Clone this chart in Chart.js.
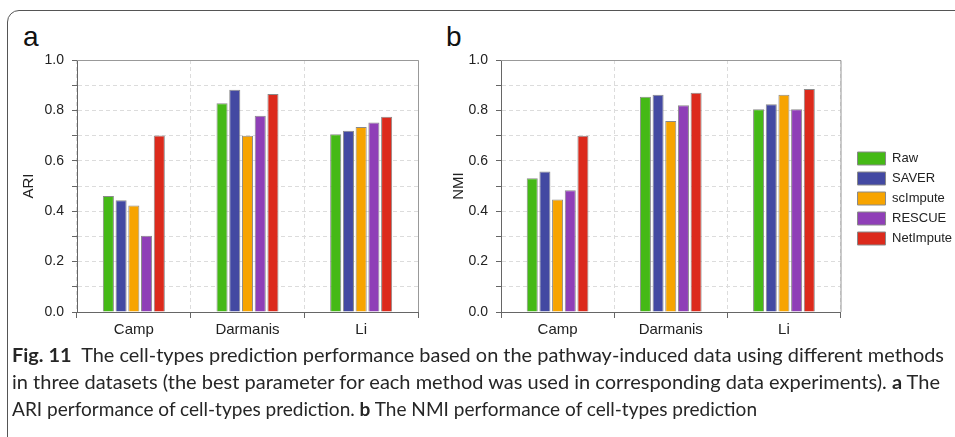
<!DOCTYPE html>
<html>
<head>
<meta charset="utf-8">
<script src="https://cdn.jsdelivr.net/npm/chart.js@4.4.1/dist/chart.umd.min.js"></script>
<style>
    body { margin: 0; background: #fff; width: 955px; height: 437px; overflow: hidden; position: relative; font-family: "Liberation Sans", Arial, sans-serif; }
    .frame { position: absolute; left: 7px; top: 10px; width: 1000px; height: 500px; border: 1.5px solid #555; border-radius: 12px; }
    .panel-label { position: absolute; font-size: 28px; color: #111; }
    #wrapA { position: absolute; left: 0; top: 0; width: 430px; height: 345px; }
    #wrapB { position: absolute; left: 430px; top: 0; width: 525px; height: 345px; }
    .caption { position: absolute; left: 12px; top: 341px; font-family: Lato, "Open Sans", sans-serif; font-size: 19px; color: #262626; }
    .caption div { white-space: nowrap; height: 27px; line-height: 27px; }
    .caption span { display: inline-block; transform-origin: 0 50%; }
</style>
</head>
<body>
<div class="frame"></div>
<div class="panel-label" style="left:23px;top:21px">a</div>
<div class="panel-label" style="left:446px;top:21px">b</div>
<div id="wrapA"><canvas id="chartA"></canvas></div>
<div id="wrapB"><canvas id="chartB"></canvas></div>
<div class="caption">
    <div><span data-w="932"><b>Fig. 11</b>&nbsp; The cell-types prediction performance based on the pathway-induced data using different methods</span></div>
    <div><span data-w="928">in three datasets (the best parameter for each method was used in corresponding data experiments). <b>a</b> The</span></div>
    <div><span data-w="745">ARI performance of cell-types prediction. <b>b</b> The NMI performance of cell-types prediction</span></div>
</div>
<script>
const datasetsNames = ['Camp', 'Darmanis', 'Li'];
const methods = ['Raw', 'SAVER', 'scImpute', 'RESCUE', 'NetImpute'];
const colors = ['#45b916', '#4349a2', '#f7a400', '#8f3fb7', '#dc2a1c'];

// ARI per method, order: Camp, Darmanis, Li
const ariRaw = [0.460, 0.828, 0.705];
const ariSaver = [0.443, 0.882, 0.719];
const ariScImpute = [0.423, 0.699, 0.734];
const ariRescue = [0.303, 0.779, 0.752];
const ariNetImpute = [0.700, 0.865, 0.775];

// NMI per method
const nmiRaw = [0.531, 0.854, 0.805];
const nmiSaver = [0.558, 0.862, 0.824];
const nmiScImpute = [0.446, 0.758, 0.862];
const nmiRescue = [0.483, 0.820, 0.805];
const nmiNetImpute = [0.699, 0.870, 0.885];

const yTicks = [0, 0.2, 0.4, 0.6, 0.8, 1.0];

function buildDatasets(series) {
    return series.map((vals, i) => ({
        label: methods[i],
        data: vals,
        backgroundColor: colors[i],
        borderColor: '#8a8a8a',
        borderWidth: 1,
        categoryPercentage: 0.56,
        barPercentage: 0.87
    }));
}

// nudge the legend to where the original sits
const legendShift = {
    id: 'legendShift',
    afterLayout(chart, args, opts) {
        const lg = chart.legend;
        if (!lg || !opts.dx) return;
        lg.left += opts.dx; lg.right += opts.dx;
        lg.top += opts.dy; lg.bottom += opts.dy;
    }
};

// solid frame on top/right like the original
const frameBox = {
    id: 'frameBox',
    afterDraw(chart) {
        const a = chart.chartArea;
        const c = chart.ctx;
        c.save();
        c.strokeStyle = '#999';
        c.lineWidth = 1;
        c.beginPath();
        c.moveTo(a.left, a.top + 0.5);
        c.lineTo(a.right + 0.5, a.top + 0.5);
        c.lineTo(a.right + 0.5, a.bottom);
        c.stroke();
        c.restore();
    }
};

function makeChart(id, series, yTitle, yWidth, withLegend, padding) {
    const ctx = document.getElementById(id).getContext('2d');
    return new Chart(ctx, {
        type: 'bar',
        data: { labels: datasetsNames, datasets: buildDatasets(series) },
        options: {
            responsive: true,
            maintainAspectRatio: false,
            animation: false,
            layout: { padding: padding },
            plugins: {
                tooltip: { enabled: false },
                legendShift: { dx: 10, dy: -4 },
                legend: {
                    display: withLegend,
                    position: 'right',
                    labels: {
                        boxWidth: 28,
                        boxHeight: 13,
                        padding: 7,
                        color: '#222',
                        font: { family: 'Liberation Sans', size: 13 }
                    }
                }
            },
            scales: {
                x: {
                    grid: {
                        offset: true,
                        color: '#dcdcdc',
                        tickColor: '#666',
                        tickLength: 6,
                        tickBorderDash: []
                    },
                    border: { color: '#666', dash: [4, 3] },
                    ticks: { color: '#222', font: { family: 'Liberation Sans', size: 15 }, padding: 3 },
                    afterFit: (s) => { s.height = 33; }
                },
                y: {
                    min: 0,
                    max: 1,
                    ticks: {
                        stepSize: 0.1,
                        color: '#222',
                        padding: 8,
                        font: { family: 'Liberation Sans', size: 14 },
                        callback: (v) => yTicks.some(t => Math.abs(t - v) < 1e-6) ? v.toFixed(1) : ''
                    },
                    grid: {
                        color: '#dcdcdc',
                        tickColor: '#666',
                        tickLength: 5,
                        tickBorderDash: []
                    },
                    border: { color: '#666', dash: [4, 3] },
                    title: {
                        display: true,
                        text: yTitle,
                        color: '#222',
                        font: { family: 'Liberation Sans', size: 15 },
                        padding: 0
                    },
                    afterFit: (s) => { s.width = yWidth; }
                }
            }
        },
        plugins: [legendShift, frameBox]
    });
}

const chartA = makeChart('chartA',
    [ariRaw, ariSaver, ariScImpute, ariRescue, ariNetImpute],
    'ARI', 57, false, { top: 60, right: 12, left: 20, bottom: 0 });
const chartB = makeChart('chartB',
    [nmiRaw, nmiSaver, nmiScImpute, nmiRescue, nmiNetImpute],
    'NMI', 51, true, { top: 60, right: 3, left: 20, bottom: 0 });

// fit caption lines to the original line widths
document.querySelectorAll('.caption span').forEach(el => {
    const target = +el.dataset.w;
    const w = el.getBoundingClientRect().width;
    el.style.transform = 'scaleX(' + (target / w) + ')';
});
</script>
</body>
</html>
